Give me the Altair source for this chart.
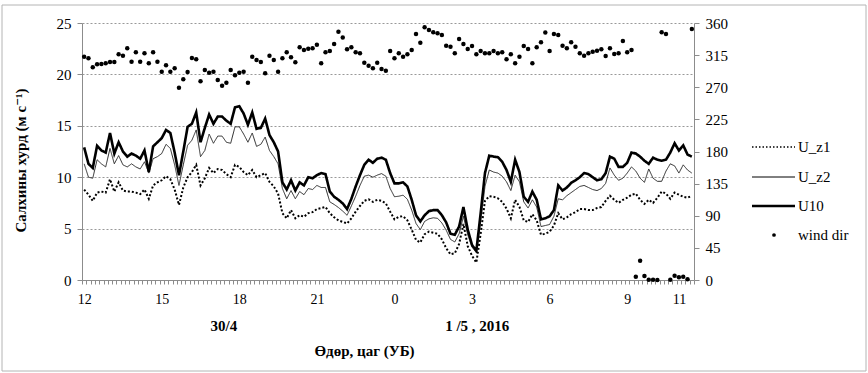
import altair as alt
import pandas as pd

# ---------------- data (10-minute values, 12:00 30/4 -> 11:30 1/5) ----------------
u10 = [12.9, 11.3, 10.9, 13.05, 12.6, 12.4, 14.3, 12.3, 13.4, 12.5,
       12.0, 12.3, 12.1, 11.8, 12.6, 10.5, 13.0, 13.4, 13.8, 14.6,
       14.3, 12.4, 10.2, 12.5, 14.9, 15.2, 16.3, 13.4, 14.8, 16.1,
       15.2, 15.9, 15.9, 15.5, 15.2, 16.8, 16.9, 16.2, 15.1, 16.3,
       14.7, 14.8, 15.7, 14.1, 13.4, 12.5, 9.5, 8.8, 9.7, 8.7,
       9.5, 9.2, 10.0, 9.9, 10.2,
       10.4, 10.3, 8.6, 8.1, 7.8, 7.45, 6.9, 7.9, 9.1, 10.2,
       11.2, 11.7, 11.4, 11.8, 11.9, 11.7, 10.4, 9.4, 9.4, 9.5,
       9.1, 7.8, 6.3, 5.7, 6.3, 6.7, 6.8, 6.8, 6.3, 5.6,
       4.5, 4.4, 5.2, 7.1, 4.9, 3.4, 2.85, 6.5, 10.4, 12.1,
       12.0, 11.95, 11.5, 10.7, 9.55, 11.7, 10.5, 8.1, 7.6, 8.6,
       7.8,
       5.9, 6.0, 6.2, 6.8, 9.2, 8.7, 9.0, 9.45, 9.7, 10.0,
       10.4, 10.3, 10.0, 9.7, 9.8, 10.4, 12.0, 11.8, 11.0, 11.0,
       11.4, 12.4, 12.3, 12.0, 11.6, 11.3, 11.9, 11.7, 11.6, 11.7,
       12.4, 13.3, 12.6, 13.1, 12.2, 12.0]

u_z2 = [11.3, 10.0, 9.9, 11.7, 11.3, 11.0, 12.8, 11.3, 12.1, 11.2,
        11.0, 11.3, 11.0, 10.8, 11.5, 10.4, 11.8, 12.0, 12.3, 13.2,
        12.8, 11.2, 9.2, 11.2, 13.1, 13.6, 14.6, 12.0, 12.6, 14.2,
        13.3, 14.0, 14.0, 13.4, 13.3, 14.9, 14.9, 14.2, 13.4, 14.3,
        13.0, 13.2, 13.9, 12.6, 12.0, 11.3, 8.9, 7.9, 8.7, 7.9,
        8.6, 8.3, 8.9, 8.8, 9.2,
        9.0, 9.0, 7.6, 7.35, 7.05, 6.7, 6.3, 7.2, 8.15, 9.2,
        10.1, 10.2, 10.0, 10.2, 10.35, 10.1, 8.9, 8.1, 8.15, 8.25,
        7.85, 6.8, 5.5, 4.9, 5.7, 5.95, 6.05, 6.0, 5.55, 4.85,
        3.95, 3.7, 4.5, 6.2, 4.4, 3.2, 2.65, 5.65, 9.1, 10.7,
        10.5, 10.4, 10.1, 9.55, 8.7, 10.2, 9.55, 7.6, 7.0, 7.8,
        7.1,
        5.2, 5.3, 5.4, 6.2, 7.9, 7.8, 8.2, 8.5, 8.8, 9.1,
        9.2, 9.0, 8.8, 8.7, 8.9, 9.4, 10.9, 10.2, 9.7, 9.9,
        10.4, 11.0, 10.6, 9.9, 9.5, 10.8, 9.9, 9.6, 9.6, 10.6,
        11.3, 11.1, 10.4, 11.2, 10.7, 10.4]

u_z1 = [8.8, 8.3, 7.7, 8.5, 8.6, 8.5, 9.8, 8.6, 9.5, 8.7,
        8.6, 8.6, 8.5, 8.35, 8.8, 7.9, 9.2, 9.5, 9.7, 10.1,
        9.8, 8.8, 7.3, 9.0, 10.0, 10.5, 11.2, 9.2, 9.9, 10.9,
        10.4, 10.8, 10.7, 10.3, 10.0, 11.2, 11.0, 10.5, 10.2, 10.7,
        10.0, 10.2, 10.4, 9.55, 9.1, 8.4, 6.5, 6.0, 6.8, 6.0,
        6.3, 6.15, 6.5, 6.6, 6.9,
        7.0, 7.1, 6.5, 6.1, 5.8, 5.65, 5.5, 6.0, 6.65, 7.2,
        7.7, 7.85, 7.6, 7.8, 7.7, 7.45, 6.65, 5.9, 6.15, 6.2,
        5.8, 4.9, 3.9, 3.65, 4.45, 4.7, 4.6, 4.5, 3.95, 3.1,
        2.5, 2.6, 3.5, 5.45, 3.3, 2.35, 1.7, 4.5, 7.7, 8.15,
        8.1, 7.95, 7.6, 6.95, 6.0, 7.8, 7.1, 5.8, 5.65, 6.4,
        5.8,
        4.4, 4.5, 4.7, 5.3, 6.5, 5.9, 6.1, 6.4, 6.6, 6.9,
        6.9, 6.8, 6.8, 7.0, 7.1, 7.7, 8.2, 7.8, 7.5, 7.8,
        8.0, 8.3, 8.4, 7.8, 7.4, 7.8, 7.5, 8.0, 8.6, 8.4,
        7.9, 8.5, 8.3, 8.1, 8.0, 8.2]

wind_dir = [312.8, 310.5, 297.9, 302.1, 302.6, 303.5, 305.4, 305.4, 316.1, 314.2,
            324.5, 305.8, 318.9, 305.8, 317.6, 303.5, 318.9, 305.8, 291.8, 300.7,
            291.8, 296.5, 269.4, 281.1, 291.4, 311.0, 309.2, 278.3, 294.2, 290.4,
            291.8, 280.2, 272.2, 276.4, 294.2, 286.7, 290.4, 291.8, 276.4, 312.8,
            308.2, 305.4, 289.5, 314.2, 308.2, 291.8, 310.5, 318.9, 312.0, 304.9,
            325.9, 322.1, 324.0, 324.5, 329.6,
            303.5, 318.9, 320.8, 330.6, 347.8, 339.8, 323.1, 325.9, 318.9, 317.6,
            304.4, 300.2, 296.5, 304.4, 295.5, 293.2, 320.8, 310.5, 317.6, 312.8,
            316.1, 322.1, 344.6, 332.4, 353.9, 350.2, 347.0, 345.6, 343.2, 328.2,
            326.8, 317.6, 337.6, 330.6, 323.6, 327.8, 316.1, 320.8, 317.6, 317.6,
            320.8, 317.6, 318.9, 309.2, 316.1, 303.5, 312.8, 327.8, 323.6, 303.5,
            325.9, 332.9, 346.6, 320.8, 344.6, 343.2, 328.2, 324.5, 332.9, 326.8,
            317.6, 314.2, 317.6, 319.8, 321.2, 323.1, 313.7, 324.5, 316.6, 317.6,
            334.8, 318.9, 322.1, 4.6, 27.0, 5.6, 0.5, 0.3, 0.0, 347.0,
            344.6, 0.3, 6.0, 3.7, 4.6, 1.0, 351.6]

series_names = ["U_z1", "U_z2", "U10"]
legend_names = ["U_z1", "U_z2", "U10", "wind dir"]
hour_label_positions = [0, 3, 6, 9, 12, 15, 18, 21, 23]   # hours after 12:00
date_labels = ["30/4", "1 /5 , 2016"]
date_label_hours = [5.4, 15.2]
speed_ticks = [0, 5, 10, 15, 20, 25]
dir_ticks = [0, 45, 90, 135, 180, 225, 270, 315, 360]

n = len(u10)
assert n == len(u_z2) == len(u_z1) == len(wind_dir) == 142
hours = [i / 6 for i in range(n)]
df = pd.DataFrame({"t": hours, "U_z1": u_z1, "U_z2": u_z2, "U10": u10, "dir": wind_dir})

FONT = "'Liberation Serif', 'Times New Roman', 'DejaVu Serif', serif"
AX = "#8c8c8c"

x_scale = alt.Scale(domain=[-1 / 12, (n - 1) / 6 + 1 / 12], nice=False, zero=False)
minor_ticks = [(k - 0.5) / 6 for k in range(n + 1)]

x_axis = alt.Axis(
    values=minor_ticks + hour_label_positions,
    labelExpr="datum.value % 1 === 0 ? '' + ((datum.value + 12) % 24) : ''",
    labelFlush=False, labelOverlap=False, labelFontSize=14, labelPadding=8,
    tickSize=4, tickColor=AX, domainColor=AX, grid=False,
    tickOpacity={"condition": {"test": "datum.value % 1 === 0", "value": 0}, "value": 1},
    title="Өдөр, цаг (УБ)", titleFontSize=15, titleFontWeight="bold",
    titleX=282, titleY=70, titleAlign="center", titleBaseline="middle",
)
X = alt.X("t:Q", scale=x_scale, axis=x_axis)

y_left_axis = alt.Axis(
    values=speed_ticks, labelFontSize=15, labelPadding=6, tickSize=5,
    tickColor=AX, domainColor=AX, grid=True, gridDash=[2, 2], gridColor="#999999",
    title="Салхины хурд (м с⁻¹)", titleFontSize=15, titleFontWeight="bold",
    titleAngle=270, titleX=-62, titleY=137, titleAlign="center", titleBaseline="middle",
)

y_right_axis = alt.Axis(
    orient="right", values=dir_ticks, labelFontSize=15, labelPadding=6, tickSize=5,
    tickColor=AX, domainColor=AX, grid=False, title=None,
)

base = alt.Chart(df)

lines = base.transform_fold(series_names, as_=["series", "speed"]).mark_line(
    strokeCap="butt"
).encode(
    x=X,
    y=alt.Y("speed:Q", scale=alt.Scale(domain=[0, 25], nice=False), axis=y_left_axis),
    strokeDash=alt.StrokeDash("series:N", scale=alt.Scale(type="ordinal", domain=series_names, range=[[2, 2], [1, 0], [1, 0]]), legend=None),
    strokeWidth=alt.StrokeWidth("series:N", scale=alt.Scale(type="ordinal", domain=series_names, range=[2, 1, 2.6]), legend=None),
    color=alt.Color("series:N", scale=alt.Scale(type="ordinal", domain=series_names, range=["#000000", "#2a2a2a", "#000000"]), legend=None),
    order=alt.Order("t:Q"),
)

points = base.mark_circle(size=20, color="black", opacity=1).encode(
    x=X,
    y=alt.Y("dir:Q", scale=alt.Scale(domain=[0, 360], nice=False), axis=y_right_axis),
)

dates = alt.Chart(pd.DataFrame({"label": date_labels, "t": date_label_hours})).mark_text(
    font=FONT, fontSize=15, fontWeight="bold", baseline="middle", align="center", color="black"
).encode(
    x=X,
    y=alt.value(303),
    text="label:N",
)

# legend (drawn manually, to the right of the plot)
leg_y = [124, 154, 183, 212]
leg_layers = []
leg_styles = [dict(strokeDash=[1.5, 2], strokeWidth=1.5), dict(strokeWidth=1), dict(strokeWidth=2.6)]
for name, yy, st in zip(legend_names[:3], leg_y[:3], leg_styles):
    leg_layers.append(
        alt.Chart(pd.DataFrame({"name": [name]})).mark_rule(color="black", strokeCap="butt", **st).encode(
            x=alt.value(670), x2=alt.value(713), y=alt.value(yy)
        )
    )
leg_layers.append(
    alt.Chart(pd.DataFrame({"name": [legend_names[3]]})).mark_circle(size=14, color="black", opacity=1).encode(
        x=alt.value(692), y=alt.value(leg_y[3])
    )
)
leg_layers.append(
    alt.Chart(pd.DataFrame({"name": legend_names, "yy": leg_y})).mark_text(
        font=FONT, fontSize=15, align="left", baseline="middle", color="black"
    ).encode(x=alt.value(716), y=alt.Y("yy:Q", scale=None), text="name:N")
)

frame = alt.Chart(pd.DataFrame({"name": ["frame"]})).mark_rect(
    fillOpacity=0, stroke="#b4b4b4", strokeWidth=1
).encode(x=alt.value(-80), x2=alt.value(784), y=alt.value(-18), y2=alt.value(348))

chart = alt.layer(lines, points, dates, *leg_layers, frame).resolve_scale(
    y="independent"
).properties(
    width=612, height=257,
    padding={"left": 82, "top": 23, "right": 174, "bottom": 93},
    autosize=alt.AutoSizeParams(type="none"),
).configure_view(stroke=None).configure_axis(
    labelFont=FONT, titleFont=FONT, labelColor="black", titleColor="black"
).configure_text(font=FONT)

chart.save("out.html", embed_options={"renderer": "svg", "actions": False})
